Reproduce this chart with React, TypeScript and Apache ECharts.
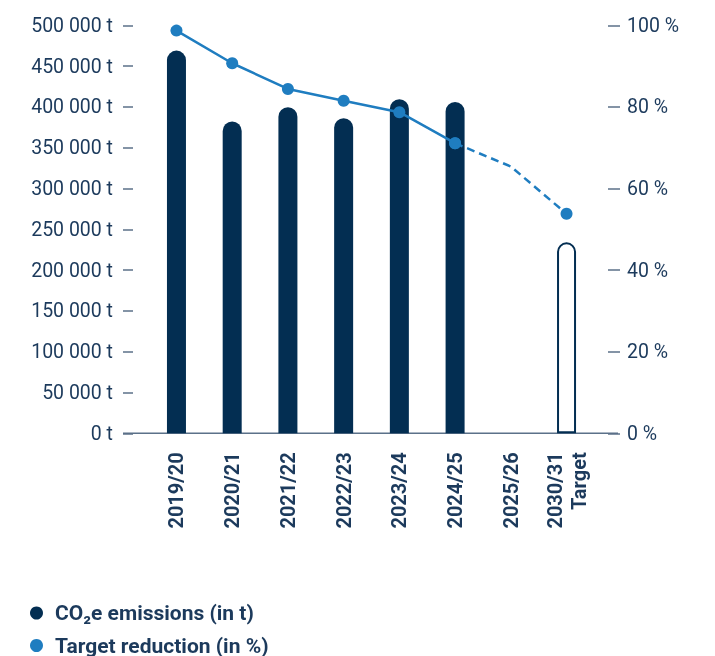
import React, { useEffect, useRef } from "react";
import * as echarts from "echarts";

const categories = ["2019/20", "2020/21", "2021/22", "2022/23", "2023/24", "2024/25", "2025/26", "2030/31\nTarget"];
const emissions: (number | null)[] = [469000, 382000, 399500, 386000, 409500, 406000, null, 234000];
const reductionActual: (number | null)[] = [98.7, 90.7, 84.4, 81.5, 78.7, 71.1, null, null];
const reductionPlanned: (number | null)[] = [null, null, null, null, null, 71.1, 65.4, 53.8];
const legendNames = ["CO₂e emissions (in t)", "Target reduction (in %)"];
const targetIndex = 7;
const noMarkerIndex = 6;

const NAVY = "#032E52";
const BLUE = "#1F7DC0";
const TEXT = "#1C3A5C";
const AXIS = "#5B7189";

const fmtT = (v: number) => String(v).replace(/\B(?=(\d{3})+(?!\d))/g, " ") + " t";

export default function App() {
  const ref = useRef<HTMLDivElement>(null);
  useEffect(() => {
    const chart = echarts.init(ref.current!, undefined, { renderer: "svg" });
    const barData = emissions.map((v, i) =>
      i === targetIndex
        ? { value: v, itemStyle: { color: "#ffffff", borderColor: NAVY, borderWidth: 2, borderRadius: [10, 10, 0, 0] } }
        : v
    );
    const plannedData = reductionPlanned.map((v, i) =>
      i === noMarkerIndex ? { value: v, symbol: "none" } : v
    );
    const legendText = { color: TEXT, fontSize: 21, fontWeight: "bold", fontFamily: "Roboto", lineHeight: 22, padding: [0, 0, 0, 7] };
    const mkLegend = (name: string, top: number) => ({
      orient: "vertical",
      left: 30,
      top,
      padding: 0,
      itemWidth: 13,
      itemHeight: 13,
      icon: "circle",
      selectedMode: false,
      data: [name],
      textStyle: legendText,
    });
    chart.setOption({
      animation: false,
      textStyle: { fontFamily: "Roboto" },
      grid: { left: 148.6, right: 120.6, top: 25.3, bottom: 222.7 },
      legend: [mkLegend(legendNames[0], 602), mkLegend(legendNames[1], 634.5)],
      graphic: [
        { type: "line", z: 0, shape: { x1: 123, y1: 433.3, x2: 618, y2: 433.3 }, style: { stroke: AXIS, lineWidth: 1.5 } },
      ],
      xAxis: {
        type: "category",
        data: categories,
        axisLine: { show: false },
        axisTick: { show: false },
        axisLabel: {
          rotate: 90,
          interval: 0,
          margin: 19,
          color: TEXT,
          fontSize: 20,
          fontWeight: "bold",
          fontFamily: "Roboto",
          lineHeight: 24,
        },
      },
      yAxis: [
        {
          type: "value",
          min: 0,
          max: 500000,
          interval: 50000,
          offset: 15.6,
          splitLine: { show: false },
          axisLine: { show: false },
          axisTick: { show: true, length: 10, lineStyle: { color: AXIS, width: 1.5 } },
          axisLabel: { margin: 20, color: TEXT, fontSize: 19.5, fontFamily: "Roboto", formatter: fmtT },
        },
        {
          type: "value",
          position: "right",
          min: 0,
          max: 100,
          interval: 20,
          offset: 13.6,
          splitLine: { show: false },
          axisLine: { show: false },
          axisTick: { show: true, length: 12, lineStyle: { color: AXIS, width: 1.5 } },
          axisLabel: { margin: 19, color: TEXT, fontSize: 19.5, fontFamily: "Roboto", formatter: (v: number) => v + " %" },
        },
      ],
      series: [
        {
          name: legendNames[0],
          type: "bar",
          yAxisIndex: 0,
          barWidth: 19,
          data: barData,
          itemStyle: { color: NAVY, borderRadius: [10, 10, 0, 0] },
          z: 2,
        },
        {
          name: legendNames[1],
          type: "line",
          yAxisIndex: 1,
          data: reductionActual,
          symbol: "circle",
          symbolSize: 12,
          lineStyle: { color: BLUE, width: 2.5 },
          itemStyle: { color: BLUE },
          z: 5,
        },
        {
          name: legendNames[1],
          type: "line",
          yAxisIndex: 1,
          data: plannedData,
          symbol: "circle",
          symbolSize: 12,
          lineStyle: { color: BLUE, width: 2.5, type: [8, 5] },
          itemStyle: { color: BLUE },
          z: 4,
        },
      ],
    });
    return () => chart.dispose();
  }, []);
  return <div ref={ref} style={{ position: "fixed", left: 0, top: 0, width: 715, height: 656 }} />;
}
